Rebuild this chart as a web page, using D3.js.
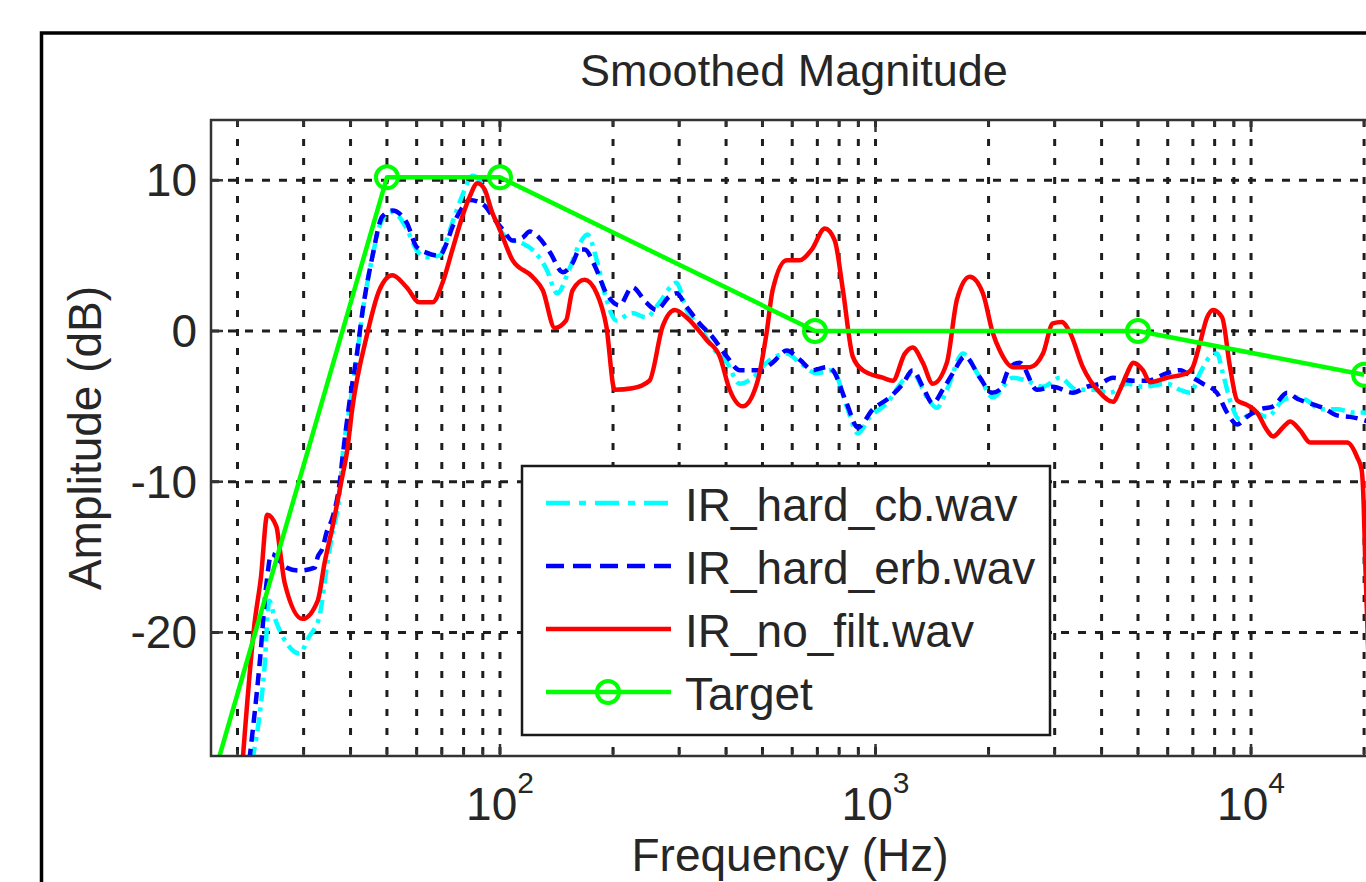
<!DOCTYPE html>
<html lang="en">
  <head>
    <meta charset="utf-8" />
    <script src="https://d3js.org/d3.v7.min.js"></script>
    <style>
      body {
        margin: 0;
        background: #ffffff;
      }
      text {
        font-family: "Liberation Sans", Arial, sans-serif;
        fill: #262626;
      }
    </style>
    <title>Smoothed Magnitude</title>
  </head>

  <body>
    <svg id="chart" width="1366" height="882"></svg>

    <script>
      // values (Hz, dB)
      const cbFreq = [21.9, 23.6, 24.3, 25.1, 27.0, 29.2, 31.0, 33.0, 34.7, 35.8, 37.4, 38.0, 39.7, 41.5, 43.1, 45.7, 48.6, 51.7, 56.4, 59.9, 63.7, 69.0, 72.0, 74.7, 79.4, 84.5, 88.1, 92.0, 95.5, 104, 115, 122, 133, 142, 153, 163, 171, 181, 192, 204, 225, 245, 266, 295, 314, 340, 368, 402, 435, 471, 513, 580, 628, 697, 769, 838, 897, 966, 1072, 1183, 1256, 1371, 1456, 1549, 1709, 1897, 2051, 2322, 2529, 2792, 3097, 3436, 3793, 4207, 4677, 5152, 5970, 6471, 6887, 7311, 7780, 8110, 8414, 8790, 9350, 10120, 11040, 12160, 12940, 14090, 15280, 16940, 18710, 19910, 21000];
      const cbDb = [-28.5, -22.3, -17.9, -19.0, -20.7, -21.4, -20.3, -19.0, -15.4, -13.4, -10.8, -8.6, -5.2, -1.9, 1.3, 4.9, 7.4, 7.9, 6.8, 5.4, 4.9, 5.0, 6.0, 7.2, 9.0, 10.3, 10.0, 9.0, 7.8, 6.2, 5.8, 5.4, 4.1, 2.5, 4.1, 5.8, 6.4, 4.7, 2.1, 0.7, 1.2, 0.9, 1.9, 3.2, 1.4, 0.3, -1.1, -2.1, -3.5, -3.1, -2.1, -1.5, -2.1, -2.8, -2.6, -5.0, -6.8, -5.7, -4.8, -3.3, -2.8, -4.4, -5.1, -3.9, -1.5, -3.1, -4.4, -3.1, -3.3, -3.7, -3.1, -3.9, -3.9, -4.1, -3.5, -3.7, -3.5, -3.9, -4.1, -2.8, -1.7, -1.5, -2.8, -4.6, -5.9, -5.4, -5.7, -4.6, -4.4, -4.6, -5.2, -5.2, -5.4, -5.4, -5.6];

      const erbFreq = [21.5, 22.9, 23.9, 24.6, 27.0, 29.2, 32.1, 32.7, 33.7, 34.5, 35.8, 37.4, 38.0, 39.7, 41.5, 43.1, 45.7, 48.6, 51.7, 56.4, 59.9, 63.7, 69.0, 72.0, 74.7, 79.4, 83.0, 87.1, 92.0, 95.5, 102, 108, 115, 120, 127, 136, 147, 156, 163, 168, 179, 192, 208, 225, 245, 261, 283, 295, 314, 340, 368, 402, 435, 492, 532, 580, 628, 681, 741, 769, 838, 897, 984, 1091, 1183, 1256, 1336, 1421, 1510, 1607, 1730, 1897, 2042, 2143, 2280, 2421, 2692, 2965, 3357, 3656, 3959, 4288, 4853, 5284, 5970, 6471, 6998, 7447, 8110, 8630, 9183, 9750, 10570, 11450, 12480, 13270, 14360, 15560, 16940, 18370, 19910, 21000];
      const erbDb = [-28.5, -22.1, -16.7, -14.8, -15.7, -15.9, -15.7, -15.0, -14.4, -13.4, -12.4, -10.1, -8.6, -4.8, -1.7, 1.4, 4.9, 7.6, 8.0, 7.2, 5.6, 5.2, 5.0, 5.8, 6.9, 8.2, 8.7, 8.6, 8.2, 7.6, 6.7, 6.0, 6.2, 6.6, 6.2, 5.2, 3.9, 4.5, 5.4, 5.4, 4.3, 2.5, 1.7, 2.9, 1.9, 1.4, 2.3, 2.5, 1.6, 0.5, -0.4, -1.7, -2.6, -2.6, -2.1, -1.3, -1.9, -2.6, -2.4, -2.6, -4.8, -6.4, -5.2, -4.4, -3.5, -2.6, -3.7, -4.8, -3.9, -2.8, -1.7, -3.1, -4.1, -3.9, -2.4, -2.1, -3.9, -3.7, -4.1, -3.7, -3.5, -3.1, -3.3, -3.3, -2.8, -2.6, -3.1, -3.5, -4.1, -5.4, -6.2, -5.7, -5.2, -5.0, -4.1, -4.5, -4.8, -5.1, -5.6, -5.7, -5.9, -6.1];

      const noFiltFreq = [20.5, 22.2, 23.1, 24.0, 25.4, 25.9, 26.7, 29.8, 32.7, 34.1, 35.8, 38.0, 39.2, 40.4, 44.1, 47.7, 51.7, 56.4, 61.0, 66.1, 70.3, 74.7, 79.4, 83.0, 87.1, 91.0, 94.9, 100, 108, 122, 130, 140, 150, 156, 168, 181, 192, 202, 225, 250, 271, 292, 314, 355, 385, 409, 443, 483, 513, 532, 580, 628, 676, 733, 779, 819, 870, 925, 1045, 1112, 1197, 1256, 1336, 1421, 1549, 1648, 1782, 1932, 2051, 2143, 2322, 2576, 2792, 2965, 3133, 3294, 3565, 3959, 4288, 4477, 4677, 4853, 5152, 5383, 5970, 6745, 6998, 7311, 7638, 7925, 8375, 8790, 9183, 9750, 10370, 11040, 11450, 12160, 12710, 13520, 14360, 16560, 18030, 19190, 19700, 19950, 20150, 20700, 21200];
      const noFiltDb = [-29.5, -19.4, -16.3, -12.2, -13.0, -14.4, -16.7, -19.1, -17.9, -15.4, -13.0, -9.7, -7.9, -5.2, -0.4, 2.7, 3.7, 2.9, 1.9, 1.9, 3.2, 5.4, 7.6, 8.9, 9.8, 9.4, 8.0, 6.7, 4.7, 3.6, 2.7, 0.2, 0.7, 2.7, 3.4, 2.5, 0.3, -3.9, -3.8, -3.3, 0.3, 1.4, 0.9, -0.6, -1.7, -3.9, -5.0, -3.5, -0.1, 2.7, 4.7, 4.7, 5.4, 6.8, 6.0, 2.7, -1.7, -2.6, -3.1, -3.3, -1.5, -1.1, -2.1, -3.5, -2.1, 2.1, 3.6, 2.5, -0.1, -1.3, -2.4, -2.4, -1.5, 0.5, 0.6, -0.1, -2.4, -4.1, -4.7, -3.9, -2.8, -2.1, -2.6, -3.4, -3.1, -2.8, -2.4, -0.8, 0.9, 1.4, 0.9, -2.4, -4.6, -4.9, -5.4, -6.6, -7.0, -6.4, -6.0, -6.6, -7.4, -7.4, -7.4, -8.4, -9.2, -11.5, -15.5, -24, -32];

      const targetFreq = [10, 50, 100, 690, 5000, 20000];
      const targetDb = [-50, 10.2, 10.2, 0, 0, -2.9];

      const yTicks = [-20, -10, 0, 10];
      const xMajor = [100, 1000, 10000];
      const xExponents = ["2", "3", "4"];
      const xMinor = [20, 30, 40, 50, 60, 70, 80, 90, 200, 300, 400, 500, 600, 700, 800, 900, 2000, 3000, 4000, 5000, 6000, 7000, 8000, 9000, 20000];

      const seriesNames = ["IR_hard_cb.wav", "IR_hard_erb.wav", "IR_no_filt.wav", "Target"];

      const svg = d3.select("svg#chart");
      const box = { left: 211, top: 120, right: 1380, bottom: 756 };

      const x = d3.scaleLog().domain([17, 22050]).range([box.left, box.right]);
      const y = d3.scaleLinear().domain([-28.2, 14]).range([box.bottom, box.top]);

      // figure frame
      svg
        .append("rect")
        .attr("x", 41.5)
        .attr("y", 33)
        .attr("width", 1400)
        .attr("height", 900)
        .attr("fill", "#ffffff")
        .attr("stroke", "#000000")
        .attr("stroke-width", 3.5);

      svg
        .append("defs")
        .append("clipPath")
        .attr("id", "plotclip")
        .append("rect")
        .attr("x", box.left)
        .attr("y", box.top)
        .attr("width", box.right - box.left)
        .attr("height", box.bottom - box.top);

      // grid
      let grid = svg.append("g").attr("id", "grid");
      grid
        .selectAll("line.vgrid")
        .data(xMajor.concat(xMinor))
        .join("line")
        .attr("class", "vgrid")
        .attr("x1", d => x(d))
        .attr("x2", d => x(d))
        .attr("y1", box.top)
        .attr("y2", box.bottom)
        .attr("stroke", "#1e1e1e")
        .attr("stroke-width", 3)
        .attr("stroke-dasharray", "7,12");
      grid
        .selectAll("line.hgrid")
        .data(yTicks)
        .join("line")
        .attr("class", "hgrid")
        .attr("x1", box.left)
        .attr("x2", box.right)
        .attr("y1", d => y(d))
        .attr("y2", d => y(d))
        .attr("stroke", "#1e1e1e")
        .attr("stroke-width", 3)
        .attr("stroke-dasharray", "8,9");

      // curves
      const line = d3
        .line()
        .x(d => x(d[0]))
        .y(d => y(d[1]))
        .curve(d3.curveMonotoneX);
      const straight = d3
        .line()
        .x(d => x(d[0]))
        .y(d => y(d[1]));

      const series = [
        { freq: cbFreq, db: cbDb, color: "#00ffff", dash: "14,6,4,6" },
        { freq: erbFreq, db: erbDb, color: "#0000ff", dash: "12,7" },
        { freq: noFiltFreq, db: noFiltDb, color: "#ff0000", dash: null },
        { freq: targetFreq, db: targetDb, color: "#00ff00", dash: null },
      ];

      let curves = svg.append("g").attr("clip-path", "url(#plotclip)");
      series.forEach((s, k) => {
        curves
          .append("path")
          .datum(s.freq.map((f, i) => [f, s.db[i]]))
          .attr("fill", "none")
          .attr("stroke", s.color)
          .attr("stroke-width", 4.5)
          .attr("stroke-linejoin", "round")
          .attr("stroke-dasharray", s.dash)
          .attr("d", k === 3 ? straight : line);
      });

      curves
        .selectAll("circle.marker")
        .data(targetFreq.map((f, i) => [f, targetDb[i]]))
        .join("circle")
        .attr("class", "marker")
        .attr("cx", d => x(d[0]))
        .attr("cy", d => y(d[1]))
        .attr("r", 11)
        .attr("fill", "none")
        .attr("stroke", "#00ff00")
        .attr("stroke-width", 4);

      // axes box and inward ticks
      let axes = svg.append("g").attr("id", "axes");
      axes
        .append("rect")
        .attr("x", box.left)
        .attr("y", box.top)
        .attr("width", box.right - box.left)
        .attr("height", box.bottom - box.top)
        .attr("fill", "none")
        .attr("stroke", "#333333")
        .attr("stroke-width", 2.5);

      const tickData = xMajor.map(v => [v, 12]).concat(xMinor.map(v => [v, 6]));
      axes
        .selectAll("line.xtick-bottom")
        .data(tickData)
        .join("line")
        .attr("class", "xtick-bottom")
        .attr("x1", d => x(d[0]))
        .attr("x2", d => x(d[0]))
        .attr("y1", box.bottom)
        .attr("y2", d => box.bottom - d[1])
        .attr("stroke", "#333333")
        .attr("stroke-width", 2.5);
      axes
        .selectAll("line.xtick-top")
        .data(tickData)
        .join("line")
        .attr("class", "xtick-top")
        .attr("x1", d => x(d[0]))
        .attr("x2", d => x(d[0]))
        .attr("y1", box.top)
        .attr("y2", d => box.top + d[1])
        .attr("stroke", "#333333")
        .attr("stroke-width", 2.5);
      axes
        .selectAll("line.ytick")
        .data(yTicks)
        .join("line")
        .attr("class", "ytick")
        .attr("x1", box.left)
        .attr("x2", box.left + 12)
        .attr("y1", d => y(d))
        .attr("y2", d => y(d))
        .attr("stroke", "#333333")
        .attr("stroke-width", 2.5);

      // tick labels
      axes
        .selectAll("text.ylabel")
        .data(yTicks)
        .join("text")
        .attr("class", "ylabel")
        .attr("x", 197)
        .attr("y", d => y(d) + 16)
        .attr("text-anchor", "end")
        .attr("font-size", 46)
        .text(d => d);

      xMajor.forEach((v, i) => {
        const t = axes
          .append("text")
          .attr("x", x(v))
          .attr("y", 820)
          .attr("text-anchor", "middle")
          .attr("font-size", 46);
        t.append("tspan").text("10");
        t.append("tspan").attr("dy", -27).attr("font-size", 30).text(xExponents[i]);
      });

      // titles
      svg
        .append("text")
        .attr("x", 794)
        .attr("y", 86)
        .attr("text-anchor", "middle")
        .attr("font-size", 45)
        .text("Smoothed Magnitude");
      svg
        .append("text")
        .attr("x", 790)
        .attr("y", 871)
        .attr("text-anchor", "middle")
        .attr("font-size", 46)
        .text("Frequency (Hz)");
      svg
        .append("text")
        .attr("transform", "translate(101,438) rotate(-90)")
        .attr("text-anchor", "middle")
        .attr("font-size", 46)
        .text("Amplitude (dB)");

      // legend
      let legend = svg.append("g").attr("id", "legend");
      legend
        .append("rect")
        .attr("x", 522)
        .attr("y", 466)
        .attr("width", 528)
        .attr("height", 269)
        .attr("fill", "#ffffff")
        .attr("stroke", "#1a1a1a")
        .attr("stroke-width", 2.5);

      const legendDash = ["24,9,7,9", "18,9", null, null];
      seriesNames.forEach((name, i) => {
        const ly = 503 + i * 63;
        legend
          .append("line")
          .attr("x1", 546)
          .attr("x2", 671)
          .attr("y1", ly)
          .attr("y2", ly)
          .attr("stroke", series[i].color)
          .attr("stroke-width", 4.5)
          .attr("stroke-dasharray", legendDash[i]);
        if (i === 3) {
          legend
            .append("circle")
            .attr("cx", 608)
            .attr("cy", ly)
            .attr("r", 11)
            .attr("fill", "none")
            .attr("stroke", "#00ff00")
            .attr("stroke-width", 4);
        }
        legend
          .append("text")
          .attr("x", 685)
          .attr("y", ly + 18)
          .attr("font-size", 46)
          .text(name);
      });
    </script>
  </body>
</html>
